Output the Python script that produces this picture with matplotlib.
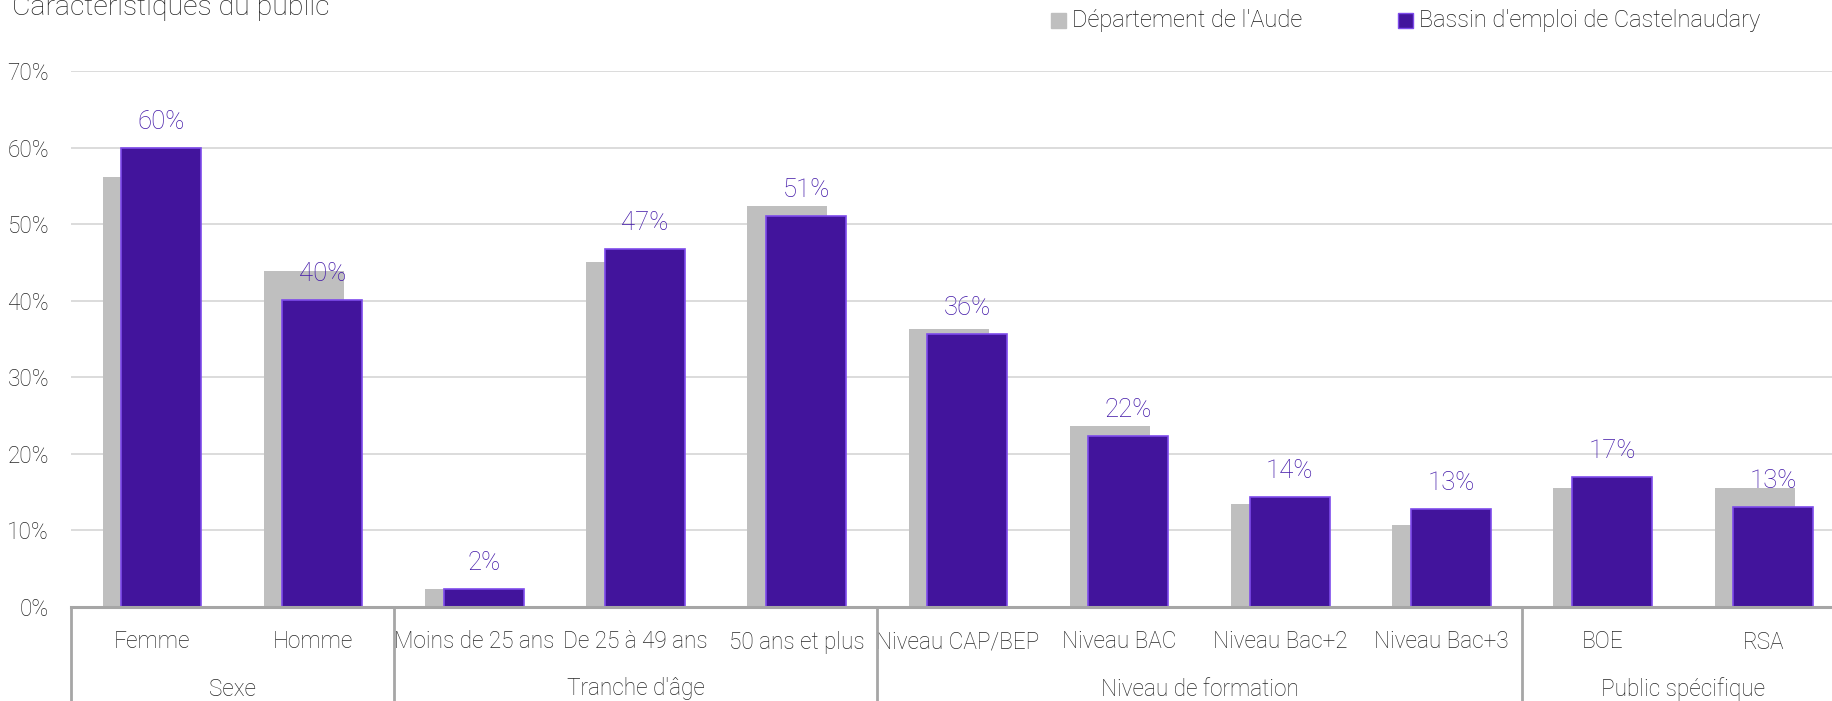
import matplotlib
matplotlib.use("Agg")
import matplotlib.pyplot as plt
from matplotlib.patches import Rectangle
import numpy as np

# ---- data ----
categories = ["Femme", "Homme", "Moins de 25 ans", "De 25 à 49 ans", "50 ans et plus",
              "Niveau CAP/BEP", "Niveau BAC", "Niveau Bac+2", "Niveau Bac+3", "BOE", "RSA"]
groups = ["Sexe", "Tranche d'âge", "Niveau de formation", "Public spécifique"]
group_sizes = [2, 3, 4, 2]
aude = [56.1, 43.9, 2.3, 45.1, 52.4, 36.3, 23.6, 13.4, 10.7, 15.5, 15.5]
castel = [60.0, 40.1, 2.4, 46.8, 51.1, 35.7, 22.3, 14.4, 12.8, 17.0, 13.0]
series_names = ["Département de l'Aude", "Bassin d'emploi de Castelnaudary"]
yticks = [0, 10, 20, 30, 40, 50, 60, 70]
title = "Caractéristiques du public"

W, H = 1832, 701
DPI = 100
plt.rcParams['font.family'] = ['Roboto', 'DejaVu Sans']

GREY = "#BFBFBF"
PURPLE = "#42149C"
PEDGE = "#7E4BEB"
LABEL_PURPLE = "#4218A8"
TXT = "#262626"
FS = 16.3
LW = 'light'

fig = plt.figure(figsize=(W / DPI, H / DPI), dpi=DPI)
ax_left, ax_right = 71.3, 1844.5
ax_top, ax_bot = 71, 607
ax = fig.add_axes([ax_left / W, (H - ax_bot) / H, (ax_right - ax_left) / W, (ax_bot - ax_top) / H])

x = np.arange(len(categories))
bw = 0.496
off = 0.058
ax.bar(x - off, aude, width=bw, color=GREY, zorder=2, label=series_names[0])
ax.bar(x + off, castel, width=bw, color=PURPLE, edgecolor=PEDGE, linewidth=1.2,
       zorder=3, label=series_names[1])

for xi, v in zip(x, castel):
    ax.annotate(f"{v:.0f}%", xy=(xi + off, v), xytext=(0, 26), textcoords='offset pixels',
                ha='center', va='center', color=LABEL_PURPLE, fontsize=18.5,
                fontweight=LW, zorder=5)

ax.set_xlim(-0.5, len(categories) - 0.5)
ax.set_ylim(0, 70)
ax.set_yticks(yticks)
ax.set_yticklabels([f"{t}%" for t in yticks], fontsize=FS, color=TXT, fontweight=LW)
ax.tick_params(axis='y', length=0, pad=16)
ax.yaxis.grid(True, color="#D9D9D9", linewidth=1.3, zorder=0)
ax.set_axisbelow(True)
for s in ['top', 'right', 'left']:
    ax.spines[s].set_visible(False)
ax.spines['bottom'].set_color("#A6A6A6")
ax.spines['bottom'].set_linewidth(2.2)
ax.spines['bottom'].set_zorder(4)
ax.set_xticks([])

axh = ax_bot - ax_top
trans = ax.get_xaxis_transform()
for xi, c in zip(x, categories):
    ax.text(xi, -(642 - ax_bot) / axh, c, transform=trans, ha='center', va='center',
            fontsize=FS, color=TXT, fontweight=LW)

bounds = np.concatenate([[0], np.cumsum(group_sizes)]) - 0.5
for i, g in enumerate(groups):
    ax.text((bounds[i] + bounds[i + 1]) / 2, -(689 - ax_bot) / axh, g, transform=trans,
            ha='center', va='center', fontsize=FS, color=TXT, fontweight=LW)
for b in bounds:
    ax.plot([b, b], [0, -0.3], transform=trans, color="#A6A6A6", linewidth=2.0,
            clip_on=False, zorder=4)

# title
fig.text(12 / W, 1 - 15 / H, title, ha='left', va='baseline', fontsize=20.5,
         color=TXT, fontweight=LW)

# legend (manual)
def legend_item(x0, color, edge, text):
    fig.patches.append(Rectangle((x0 / W, 1 - 28 / H), 15 / W, 15 / H, transform=fig.transFigure,
                                 facecolor=color, edgecolor=edge, linewidth=1.0, figure=fig))
    fig.text((x0 + 21) / W, 1 - 21 / H, text, ha='left', va='center', fontsize=17,
             color="#1A1A1A", fontweight=LW)

legend_item(1051, GREY, GREY, series_names[0])
legend_item(1398, PURPLE, PEDGE, series_names[1])

fig.savefig("out.png", dpi=DPI)
